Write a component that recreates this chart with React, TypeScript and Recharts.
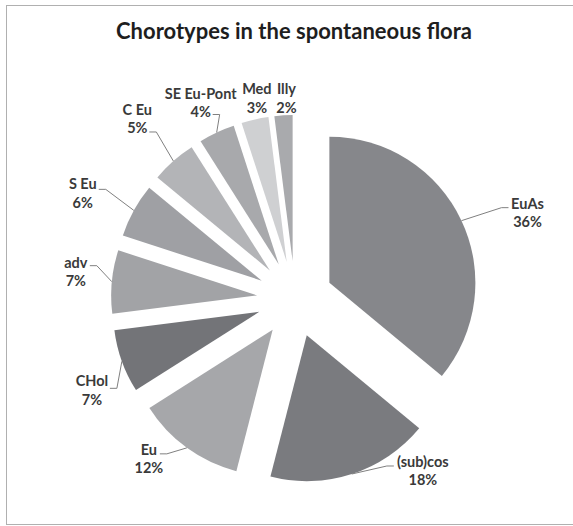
import React from "react";
import { PieChart, Pie, Cell, Sector } from "recharts";

const categories = ["EuAs", "(sub)cos", "Eu", "CHol", "adv", "S Eu", "C Eu", "SE Eu-Pont", "Med", "Illy"];
const shares = [36, 18, 12, 7, 7, 6, 5, 4, 3, 2];
const sliceColors = [
  "#86878b",
  "#7a7b7f",
  "#a6a7aa",
  "#737478",
  "#a2a3a6",
  "#9fa0a4",
  "#b3b4b7",
  "#a8a9ac",
  "#cfd0d2",
  "#a9aaad",
];

// label placement relative to the slice's outer mid point, leader end relative to label centre
const labelLayout = [
  { dx: 66, dy: -8, ex: -19, ey: -5, leader: true },
  { dx: 71, dy: -3, ex: -29, ey: -5, leader: true },
  { dx: -38, dy: 11, ex: 11, ey: -5, leader: true },
  { dx: -30, dy: 29, ex: 18, ey: -2, leader: true },
  { dx: -36, dy: -10, ex: 14, ey: -6, leader: true },
  { dx: -51, dy: -17, ex: 16, ey: -4, leader: true },
  { dx: -36, dy: -42, ex: 12, ey: 13, leader: true },
  { dx: -16, dy: -30, ex: 12, ey: 12, leader: true },
  { dx: 2, dy: -21, ex: 0, ey: 0, leader: false },
  { dx: 3, dy: -17, ex: 0, ey: 0, leader: false },
];

const data = categories.map((name, i) => ({ name, value: shares[i] }));

const RAD = Math.PI / 180;
const EXPLODE = 38;
const FONT = "Lato, 'Open Sans', sans-serif";

const renderSlice = (props: any) => {
  const { cx, cy, midAngle, innerRadius, outerRadius, startAngle, endAngle, fill } = props;
  const dx = EXPLODE * Math.cos(-midAngle * RAD);
  const dy = EXPLODE * Math.sin(-midAngle * RAD);
  return (
    <Sector
      cx={cx + dx}
      cy={cy + dy}
      innerRadius={innerRadius}
      outerRadius={outerRadius}
      startAngle={startAngle}
      endAngle={endAngle}
      fill={fill}
      stroke="none"
    />
  );
};

const renderLabel = (props: any) => {
  const { cx, cy, midAngle, outerRadius, index, percent } = props;
  const r = outerRadius + EXPLODE;
  const ax = cx + r * Math.cos(-midAngle * RAD);
  const ay = cy + r * Math.sin(-midAngle * RAD);
  const lay = labelLayout[index];
  const lx = ax + lay.dx;
  const ly = ay + lay.dy;
  const endX = lx + lay.ex;
  const endY = ly + lay.ey;
  const elbowX = endX + (lay.ex < 0 ? -7 : 7);
  return (
    <g key={`lab-${index}`}>
      {lay.leader && (
        <polyline
          points={`${ax},${ay} ${elbowX},${endY} ${endX},${endY}`}
          fill="none"
          stroke="#808080"
          strokeWidth={1}
        />
      )}
      <text
        x={lx}
        y={ly}
        textAnchor="middle"
        fill="#3a3a3a"
        fontFamily={FONT}
        fontWeight="bold"
        fontSize={14.5}
      >
        <tspan x={lx} dy={-4}>{categories[index]}</tspan>
        <tspan x={lx} dy={18.5}>{Math.round(percent * 100)}%</tspan>
      </text>
    </g>
  );
};

export default function App() {
  return (
    <div style={{ position: "absolute", left: 0, top: 0, width: 573, height: 526, background: "#fff" }}>
      <div
        style={{
          position: "absolute",
          left: 6,
          top: 5,
          width: 580,
          height: 518,
          borderLeft: "1px solid #b0b0b0",
          borderTop: "1px solid #b0b0b0",
          borderBottom: "1px solid #b0b0b0",
        }}
      />
      <div
        style={{
          position: "absolute",
          left: 0,
          top: 17,
          width: 588,
          textAlign: "center",
          fontFamily: FONT,
          fontWeight: "bold",
          fontSize: 22,
          color: "#1e1e1e",
          lineHeight: "28px",
        }}
      >
        Chorotypes in the spontaneous flora
      </div>
      <div style={{ position: "absolute", left: 0, top: 0 }}>
        <PieChart width={573} height={526} margin={{ top: 0, right: 0, bottom: 0, left: 0 }}>
          <Pie
            data={data}
            dataKey="value"
            nameKey="name"
            cx={295}
            cy={299}
            outerRadius={146}
            startAngle={90}
            endAngle={-270}
            stroke="none"
            shape={renderSlice}
            label={renderLabel}
            labelLine={false}
            isAnimationActive={false}
          >
            {data.map((d, i) => (
              <Cell key={d.name} fill={sliceColors[i]} />
            ))}
          </Pie>
        </PieChart>
      </div>
    </div>
  );
}
